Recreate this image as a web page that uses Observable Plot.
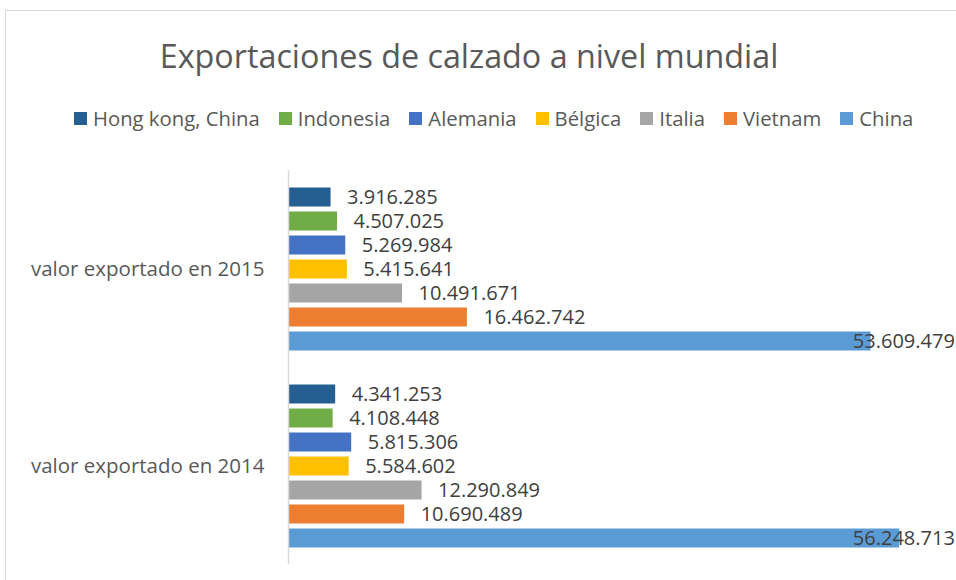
<!DOCTYPE html>
<html>
<head>
<meta charset="utf-8">
<script src="https://cdn.jsdelivr.net/npm/d3@7"></script>
<script src="https://cdn.jsdelivr.net/npm/@observablehq/plot@0.6"></script>
<style>
  html, body { margin: 0; padding: 0; background: #fff; }
  body { width: 956px; height: 580px; overflow: hidden; position: relative; font-family: "Open Sans", sans-serif; }
  #frame { position: absolute; left: 5px; top: 10px; width: 1000px; height: 600px; border: 1px solid #d9d9d9; box-sizing: border-box; }
  #title { position: absolute; left: 0; top: 33px; width: 938px; text-align: center; font-size: 32.3px; color: #595959; }
  #legend { position: absolute; left: 74px; top: 104px; display: flex; gap: 19px; font-size: 20.3px; color: #595959; white-space: nowrap; }
  #legend .item { display: flex; align-items: center; gap: 6px; }
  #legend .sw { width: 13px; height: 13px; display: inline-block; }
  #chart { position: absolute; left: 0; top: 150px; }
</style>
</head>
<body>
<div id="frame"></div>
<div id="title">Exportaciones de calzado a nivel mundial</div>
<div id="legend"></div>
<div id="chart"></div>
<script>
const groups = ["valor exportado en 2015", "valor exportado en 2014"];
const countries = ["Hong kong, China", "Indonesia", "Alemania", "Bélgica", "Italia", "Vietnam", "China"];
const colors = ["#255E91", "#70AD47", "#4472C4", "#FFC000", "#A5A5A5", "#ED7D31", "#5B9BD5"];
const values2015 = [3916285, 4507025, 5269984, 5415641, 10491671, 16462742, 53609479];
const values2014 = [4341253, 4108448, 5815306, 5584602, 12290849, 10690489, 56248713];
const xMax = 60000000;
const labelMax = 50460000; // labels are kept inside the chart area

const data = [];
countries.forEach((c, i) => data.push({group: groups[0], country: c, value: values2015[i]}));
countries.forEach((c, i) => data.push({group: groups[1], country: c, value: values2014[i]}));

const fmt = d3.formatLocale({decimal: ",", thousands: ".", grouping: [3], currency: ["", ""]}).format(",d");

const legend = document.getElementById("legend");
countries.forEach((c, i) => {
  const it = document.createElement("div");
  it.className = "item";
  it.innerHTML = `<span class="sw" style="background:${colors[i]}"></span><span>${c}</span>`;
  legend.appendChild(it);
});

const chart = Plot.plot({
  width: 956,
  height: 430,
  marginLeft: 288,
  marginRight: 16,
  marginTop: 19.5,
  marginBottom: 15,
  style: {fontFamily: "Open Sans, sans-serif", background: "transparent", overflow: "visible"},
  x: {domain: [0, xMax], axis: null},
  y: {domain: countries, axis: null, paddingInner: 0.22, paddingOuter: 0.675},
  fy: {domain: groups, padding: 0},
  color: {domain: countries, range: colors},
  marks: [
    Plot.axisFy({anchor: "left", tickSize: 0, tickPadding: 24, fontSize: 20.5, fill: "#595959", label: null}),
    Plot.barX(data, {fy: "group", y: "country", x: "value", fill: "country"}),
    Plot.ruleX([0], {stroke: "#d9d9d9", strokeWidth: 1.5}),
    Plot.text(data, {fy: "group", y: "country", x: d => Math.min(d.value, labelMax), text: d => fmt(d.value),
      textAnchor: "start", dx: 16, fontSize: 20, fill: "#404040"})
  ]
});
document.getElementById("chart").appendChild(chart);
</script>
</body>
</html>
